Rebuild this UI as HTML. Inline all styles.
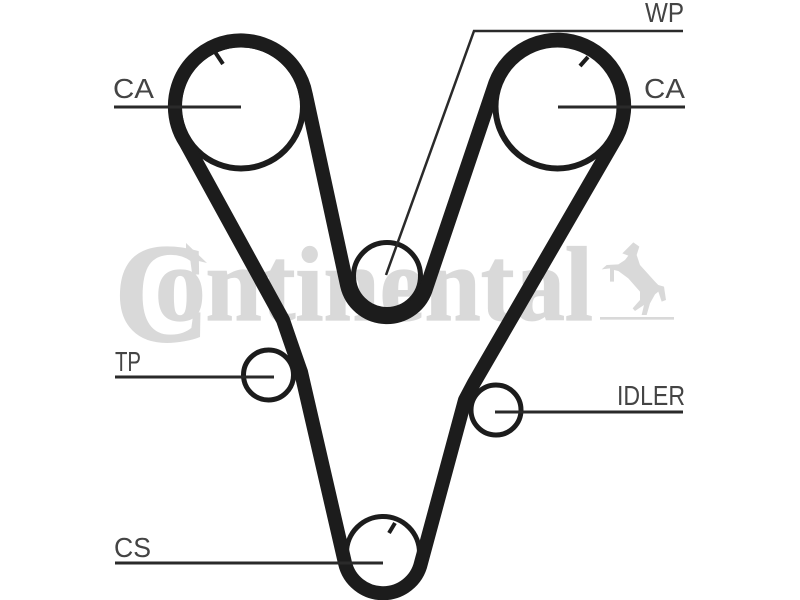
<!DOCTYPE html>
<html>
<head>
<meta charset="utf-8">
<style>
html,body{margin:0;padding:0;background:#fff;width:800px;height:600px;overflow:hidden}
svg{display:block}
.l{font-family:"Liberation Sans",sans-serif;font-size:28px;fill:#444}
.w{font-family:"Liberation Serif",serif;font-weight:bold;fill:#d9d9d9;stroke:#d9d9d9;stroke-width:1.2}
</style>
</head>
<body>
<svg width="800" height="600" viewBox="0 0 800 600" xmlns="http://www.w3.org/2000/svg">
<rect width="800" height="600" fill="#fff"/>
<!-- watermark logo -->
<text class="w" x="114" y="341" font-size="142" textLength="96" lengthAdjust="spacingAndGlyphs">C</text>
<polygon points="186,243 207,263 186,258" fill="#d9d9d9"/>
<text class="w" x="155" y="320" font-size="106" textLength="438" lengthAdjust="spacingAndGlyphs">ontinental</text>
<g transform="translate(590 235) scale(.3333)" fill="#d9d9d9">
<polygon points="130,22 148,35 140,60 150,90 195,140 205,150 222,155 228,195 215,200 205,170 195,178 180,205 170,240 155,240 162,210 135,228 128,220 150,195 150,170 115,130 85,108 72,105 72,140 60,140 60,100 35,103 50,90 85,88 105,75 115,62 97,55"/>
<rect x="30" y="246" width="222" height="8"/>
</g>
<!-- pulleys -->
<g fill="none" stroke="#1c1c1c">
<circle cx="241" cy="106.500" r="62" stroke-width="6"/>
<circle cx="557.500" cy="106.500" r="62" stroke-width="6"/>
<circle cx="387" cy="276" r="33.500" stroke-width="5"/>
<circle cx="268.500" cy="375" r="25" stroke-width="5"/>
<circle cx="496" cy="410" r="25" stroke-width="5"/>
<circle cx="383" cy="553" r="36.500" stroke-width="5"/>
<!-- belt -->
<path stroke-width="14" stroke-linejoin="round" d="M185.500 142.300 A66 66 0 1 1 305.800 94.500 L347.100 285.500 A41 41 0 0 0 425.500 290.200 L495.300 83.100 A66.500 66.500 0 1 1 616.700 136.800 L474 383 L465 400 L421 563 A39 39 0 0 1 345 563 L301 372 Q296 358 283 320 Z"/>
<!-- ticks -->
<line x1="215" y1="52" x2="223" y2="64" stroke-width="4"/>
<line x1="588" y1="57" x2="580" y2="66" stroke-width="4"/>
<line x1="395" y1="523" x2="389" y2="533" stroke-width="4"/>
<!-- leaders -->
<g stroke="#2a2a2a">
<line x1="114" y1="107" x2="241" y2="107" stroke-width="3"/>
<line x1="558" y1="107" x2="685" y2="107" stroke-width="3"/>
<line x1="115" y1="377" x2="274" y2="377" stroke-width="3"/>
<line x1="495" y1="412" x2="683" y2="412" stroke-width="3"/>
<line x1="115" y1="563" x2="383" y2="563" stroke-width="3"/>
<polyline points="386,275 474,31 683,31" stroke-width="2.500"/>
</g>
</g>
<!-- labels -->
<text class="l" x="113" y="98" textLength="41" lengthAdjust="spacingAndGlyphs">CA</text>
<text class="l" x="644" y="98" textLength="41" lengthAdjust="spacingAndGlyphs">CA</text>
<text class="l" x="645" y="22" textLength="39" lengthAdjust="spacingAndGlyphs">WP</text>
<text class="l" x="115" y="371" textLength="26" lengthAdjust="spacingAndGlyphs">TP</text>
<text class="l" x="617" y="405" textLength="68" lengthAdjust="spacingAndGlyphs">IDLER</text>
<text class="l" x="114" y="557" textLength="37" lengthAdjust="spacingAndGlyphs">CS</text>
</svg>
</body>
</html>
